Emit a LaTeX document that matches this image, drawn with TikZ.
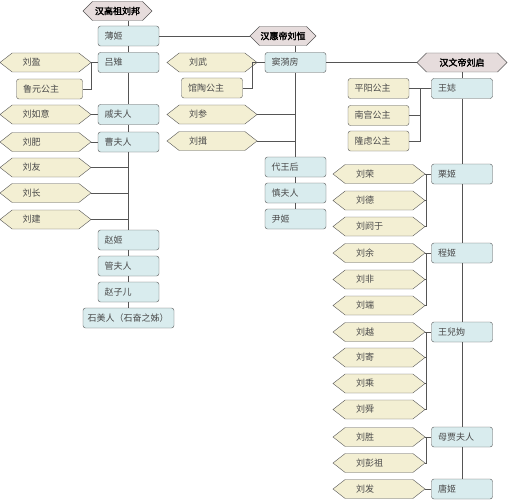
\documentclass[tikz,border=0pt]{standalone}
\usepackage{fontspec}
\newfontfamily\cjk{Noto Sans CJK SC}
\newfontfamily\cjkbold[FakeBold=2.5]{Noto Sans CJK SC}
\usetikzlibrary{shapes.symbols, calc}
\definecolor{wifefill}{HTML}{D9ECEE}
\definecolor{kidfill}{HTML}{F3EFD3}
\definecolor{empfill}{HTML}{E6DCDC}
\definecolor{edge}{HTML}{555555}
\definecolor{txt}{HTML}{4A4A4A}

\begin{document}
\begin{tikzpicture}[x=1pt, y=-1pt,
  every node/.style={font=\cjk\fontsize{9}{10}\selectfont, text=txt},
  emp/.style={shape=signal, signal to=west and east, signal pointer angle=90,
              draw=edge, fill=empfill, minimum height=19pt, inner sep=0pt,
              font=\cjkbold\fontsize{9}{10}\selectfont, text=black},
  wife/.style={draw=edge, rounded corners=2.5pt, fill=wifefill, minimum height=20pt,
               text width=48pt, inner xsep=6.5pt, inner ysep=0pt, align=left},
  girl/.style={wife, fill=kidfill},
  son/.style={shape=signal, signal to=west and east, signal pointer angle=76,
              draw=edge, fill=kidfill, minimum height=19pt, minimum width=91pt,
              text width=46pt, inner sep=0pt, align=left},
  link/.style={draw=edge, line width=0.7pt}
]
  \useasboundingbox (0,0) rectangle (508,500);

  % ---- emperors ----
  \node[emp, minimum width=69pt] (gaozu) at (117.5,11)   {汉高祖刘邦};
  \node[emp, minimum width=66pt] (huidi) at (283,36)     {汉惠帝刘恒};
  \node[emp, minimum width=90pt] (wendi) at (462,62.5)   {汉文帝刘启};

  % ---- Gaozu: wives and children ----
  \node[wife] (bo)        at (128.5,36)  {薄姬};
  \node[wife] (lvzhi)     at (128.5,62.5){吕雉};
  \node[wife] (qifuren)   at (128.5,114.5){戚夫人};
  \node[wife] (caofuren)  at (128.5,142) {曹夫人};
  \node[wife] (zhaoji)    at (128.5,240) {赵姬};
  \node[wife] (guanfuren) at (128.5,266) {管夫人};
  \node[wife] (zhaozier)  at (128.5,292) {赵子儿};
  \node[wife, text width=82pt, inner xsep=4.5pt] (shimeiren) at (128.5,318) {石美人（石奋之姊）};

  \node[son]  (liuying)  at (45.5,62.5)  {刘盈};
  \node[girl, text width=53pt] (luyuan) at (49.5,89) {鲁元公主};
  \node[son]  (liuruyi)  at (45.5,114.5) {刘如意};
  \node[son]  (liufei)   at (45.5,142)   {刘肥};
  \node[son]  (liuyou)   at (45.5,167.5) {刘友};
  \node[son]  (liuchang) at (45.5,193)   {刘长};
  \node[son]  (liujian)  at (45.5,219.5) {刘建};

  % ---- Huidi ----
  \node[wife] (douyifang)  at (295.5,62.5) {窦漪房};
  \node[wife] (daiwanghou) at (295.5,167)  {代王后};
  \node[wife] (shenfuren)  at (295.5,193)  {慎夫人};
  \node[wife] (yinji)      at (295.5,219)  {尹姬};

  \node[son, minimum width=90pt]  (liuwu)   at (212,62.5) {刘武};
  \node[girl] (guantao) at (212,88)  {馆陶公主};
  \node[son, minimum width=90pt]  (liucan)  at (212,114.5) {刘参};
  \node[son, minimum width=90pt]  (liuyi)   at (212,141)   {刘揖};

  % ---- Wendi ----
  \node[wife] (wangzhi)  at (462,88.5) {王娡};
  \node[wife] (liji)     at (462,174)  {栗姬};
  \node[wife] (chengji)  at (462,253)  {程姬};
  \node[wife] (wangerxu) at (462,332)  {王兒姁};
  \node[wife] (jiafuren) at (462,437)  {母贾夫人};
  \node[wife] (tangji)   at (462,489)  {唐姬};

  \node[girl] (pingyang) at (378.5,88.5)  {平阳公主};
  \node[girl] (nangong)  at (378.5,115.5) {南宫公主};
  \node[girl] (longlv)   at (378.5,141)   {隆虑公主};

  \node[son, minimum width=92pt] (liurong)   at (379,174)   {刘荣};
  \node[son, minimum width=92pt] (liude)     at (379,200.5) {刘德};
  \node[son, minimum width=92pt] (liuyuyu)   at (379,226.5) {刘阏于};
  \node[son, minimum width=92pt] (liuyu)     at (379,253)   {刘余};
  \node[son, minimum width=92pt] (liufeii)   at (379,279.5) {刘非};
  \node[son, minimum width=92pt] (liuduan)   at (379,305.5) {刘端};
  \node[son, minimum width=92pt] (liuyue)    at (379,332)   {刘越};
  \node[son, minimum width=92pt] (liuji)     at (379,357.5) {刘寄};
  \node[son, minimum width=92pt] (liucheng)  at (379,383.5) {刘乘};
  \node[son, minimum width=92pt] (liushun)   at (379,409.5) {刘舜};
  \node[son, minimum width=92pt] (liusheng)  at (379,437)   {刘胜};
  \node[son, minimum width=92pt] (liupengzu) at (379,463)   {刘彭祖};
  \node[son, minimum width=92pt] (liufa)     at (379,489)   {刘发};

  % ---- trunk lines ----
  \draw[link] (gaozu.south -| bo.north) -- (bo.north);
  \draw[link] (huidi.south -| douyifang.north) -- (douyifang.north);
  \draw[link] (wendi.south) -- (wangzhi.north);
  \draw[link] (bo.east) -- (huidi.west);
  \draw[link] (douyifang.east) -- (wendi.west);
  \foreach \a/\b in {bo/lvzhi, lvzhi/qifuren, qifuren/caofuren, caofuren/zhaoji,
                     zhaoji/guanfuren, guanfuren/zhaozier, zhaozier/shimeiren,
                     douyifang/daiwanghou, daiwanghou/shenfuren, shenfuren/yinji,
                     wangzhi/liji, liji/chengji, chengji/wangerxu,
                     wangerxu/jiafuren, jiafuren/tangji}
    \draw[link] (\a.south) -- (\b.north);

  % ---- children of Gaozu ----
  \draw[link] (liuying.east) -- (lvzhi.west);
  \draw[link] (lvzhi.west) -- ++(-6.5,0) |- (luyuan.east);
  \draw[link] (liuruyi.east) -- (qifuren.west);
  \draw[link] (liufei.east) -- (caofuren.west);
  \foreach \s in {liuyou, liuchang, liujian}
    \draw[link] (\s.east) -- (\s.east -| caofuren.south);

  % ---- children of Huidi ----
  \draw[link] (liuwu.east) -- (douyifang.west);
  \draw[link] (douyifang.west) -- ++(-12,0) |- (guantao.east);
  \foreach \s in {liucan, liuyi}
    \draw[link] (\s.east) -- (\s.east -| douyifang.south);

  % ---- children of Wendi ----
  \draw[link] (wangzhi.west) -- ++(-11,0) coordinate (wangzhi-b) |- (longlv.east);
  \foreach \k in {pingyang, nangong}
    \draw[link] (wangzhi-b) |- (\k.east);
  \foreach \w/\kids in {liji/{liurong,liude,liuyuyu}, chengji/{liuyu,liufeii,liuduan},
                        wangerxu/{liuyue,liuji,liucheng,liushun},
                        jiafuren/{liusheng,liupengzu}, tangji/{liufa}} {
    \draw[link] (\w.west) -- ++(-5,0) coordinate (\w-b);
    \foreach \k in \kids
      \draw[link] (\w-b) |- (\k.east);
  }
\end{tikzpicture}
\end{document}
